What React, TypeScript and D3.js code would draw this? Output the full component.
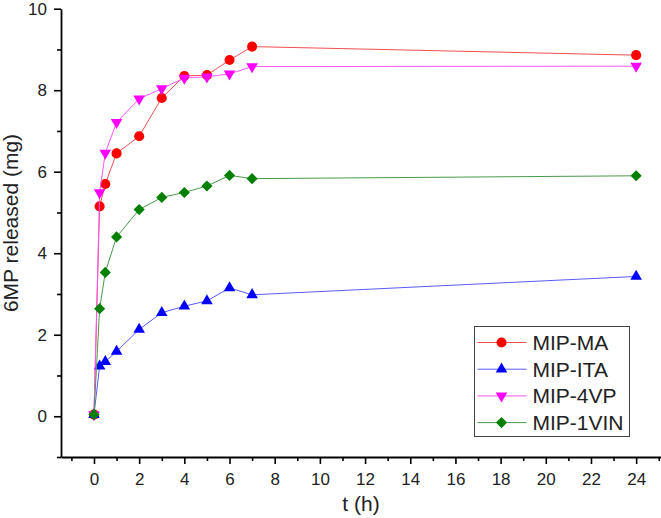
import React, { useEffect, useRef } from 'react';
import * as d3 from 'd3';

// release time points (h)
const times = [0, 0.25, 0.5, 1, 2, 3, 4, 5, 6, 7, 24];

// 6MP released (mg) for each polymer
const maValues = [0.04, 5.15, 5.7, 6.45, 6.87, 7.81, 8.35, 8.37, 8.74, 9.07, 8.86];
const itaValues = [0.04, 1.23, 1.34, 1.59, 2.13, 2.54, 2.7, 2.83, 3.15, 2.98, 3.43];
const vpValues = [0.04, 5.49, 6.46, 7.21, 7.79, 8.04, 8.3, 8.33, 8.4, 8.58, 8.59];
const vinValues = [0.04, 2.64, 3.53, 4.4, 5.07, 5.37, 5.49, 5.65, 5.91, 5.83, 5.9];

const seriesNames = ['MIP-MA', 'MIP-ITA', 'MIP-4VP', 'MIP-1VIN'];
const xMajorTicks = [0, 2, 4, 6, 8, 10, 12, 14, 16, 18, 20, 22, 24];
const xMinorTicks = [-1, 1, 3, 5, 7, 9, 11, 13, 15, 17, 19, 21, 23, 25];
const yMajorTicks = [0, 2, 4, 6, 8, 10];
const yMinorTicks = [-1, 1, 3, 5, 7, 9];

const WIDTH = 661;
const HEIGHT = 518;
const FONT = '"Liberation Sans", Arial, sans-serif';

interface Series {
  name: string;
  values: number[];
  color: string;
  lineColor: string;
  symbol: d3.SymbolType;
  size: number;
  rotate: number;
}

const series: Series[] = [
  { name: seriesNames[0], values: maValues, color: '#ff0000', lineColor: '#f05050', symbol: d3.symbolCircle, size: 80, rotate: 0 },
  { name: seriesNames[1], values: itaValues, color: '#0000ff', lineColor: '#5a5aff', symbol: d3.symbolTriangle, size: 58, rotate: 0 },
  { name: seriesNames[2], values: vpValues, color: '#ff00ff', lineColor: '#ff55ff', symbol: d3.symbolTriangle, size: 58, rotate: 180 },
  { name: seriesNames[3], values: vinValues, color: '#007f00', lineColor: '#4a9a4a', symbol: d3.symbolSquare, size: 62, rotate: 45 },
];

export default function App(): JSX.Element {
  const svgRef = useRef<SVGSVGElement>(null);

  useEffect(() => {
    const svg = d3.select(svgRef.current);
    svg.selectAll('*').remove();

    const x = d3.scaleLinear().domain([-1.46, 25.1]).range([61, 661]);
    const y = d3.scaleLinear().domain([-1, 10]).range([457, 8.7]);

    // axes
    const xAxisG = svg.append('g').attr('transform', `translate(0, ${y(-1)})`);
    xAxisG.call(
      d3.axisBottom(x).tickValues(xMajorTicks).tickSize(7).tickSizeOuter(0).tickPadding(9).tickFormat(d3.format('d')),
    );
    xAxisG
      .append('g')
      .call(d3.axisBottom(x).tickValues(xMinorTicks).tickSize(4).tickSizeOuter(0).tickFormat(() => ''))
      .select('.domain')
      .remove();

    const yAxisG = svg.append('g').attr('transform', `translate(${x(-1.46)}, 0)`);
    yAxisG.call(
      d3.axisLeft(y).tickValues(yMajorTicks).tickSize(7).tickSizeOuter(0).tickPadding(7).tickFormat(d3.format('d')),
    );
    yAxisG
      .append('g')
      .call(d3.axisLeft(y).tickValues(yMinorTicks).tickSize(4).tickSizeOuter(0).tickFormat(() => ''))
      .select('.domain')
      .remove();

    svg.selectAll('.domain').attr('stroke', '#000').attr('stroke-width', 1.8);
    svg.selectAll('.tick line').attr('stroke', '#000').attr('stroke-width', 1.6);
    svg
      .selectAll('.tick text')
      .attr('font-family', FONT)
      .attr('font-size', 17)
      .attr('fill', '#222');

    // axis titles
    svg
      .append('text')
      .attr('x', (x(-1.46) + x(25.1)) / 2)
      .attr('y', 511)
      .attr('text-anchor', 'middle')
      .attr('font-family', FONT)
      .attr('font-size', 21)
      .attr('fill', '#222')
      .text('t (h)');

    svg
      .append('text')
      .attr('transform', 'translate(18, 223) rotate(-90)')
      .attr('text-anchor', 'middle')
      .attr('font-family', FONT)
      .attr('font-size', 21)
      .attr('fill', '#222')
      .text('6MP released (mg)');

    // lines and markers
    const line = d3
      .line<number>()
      .x((_, i) => x(times[i]))
      .y((d) => y(d));

    series.forEach((s) => {
      svg
        .append('path')
        .datum(s.values)
        .attr('d', line)
        .attr('fill', 'none')
        .attr('stroke', s.lineColor)
        .attr('stroke-width', 1);

      const sym = d3.symbol().type(s.symbol).size(s.size);
      svg
        .append('g')
        .selectAll('path')
        .data(s.values)
        .join('path')
        .attr('d', sym)
        .attr('transform', (d, i) => `translate(${x(times[i])}, ${y(d)}) rotate(${s.rotate})`)
        .attr('fill', s.color);
    });

    // legend
    const legend = svg.append('g').attr('transform', 'translate(474.5, 326.5)');
    legend
      .append('rect')
      .attr('width', 155)
      .attr('height', 110)
      .attr('fill', '#fff')
      .attr('stroke', '#444')
      .attr('stroke-width', 1);

    series.forEach((s, i) => {
      const row = legend.append('g').attr('transform', `translate(0, ${16 + i * 26.7})`);
      row
        .append('line')
        .attr('x1', 3)
        .attr('x2', 52)
        .attr('stroke', s.lineColor)
        .attr('stroke-width', 1);
      row
        .append('path')
        .attr('d', d3.symbol().type(s.symbol).size(s.size)())
        .attr('transform', `translate(27, 0) rotate(${s.rotate})`)
        .attr('fill', s.color);
      row
        .append('text')
        .attr('x', 58)
        .attr('dy', '0.36em')
        .attr('font-family', FONT)
        .attr('font-size', 21)
        .attr('fill', '#222')
        .text(s.name);
    });
  }, []);

  return (
    <svg
      ref={svgRef}
      width={WIDTH}
      height={HEIGHT}
      style={{ position: 'absolute', left: 0, top: 0, background: '#fff' }}
    />
  );
}
